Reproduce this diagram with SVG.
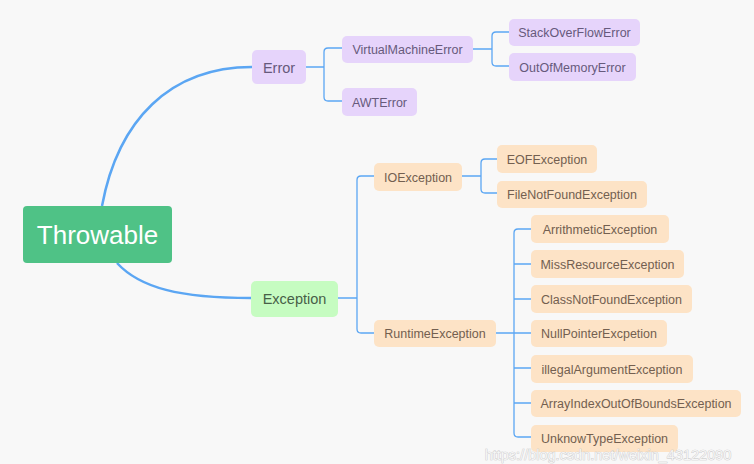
<svg xmlns="http://www.w3.org/2000/svg" width="754" height="464" viewBox="0 0 754 464">
<style>
text{font-family:"Liberation Sans",Arial,sans-serif;text-anchor:middle}
.p rect{fill:#e6d4fb}
.p text{fill:#665a7c;font-size:12.5px}
.o rect{fill:#fde3c6}
.o text{fill:#735f50;font-size:12.5px}
.l1 text{font-size:14.5px}
.c path{fill:none;stroke:#5ba6f3}
.c .thick{stroke-width:2.5}
.c .thin{stroke-width:1.3}
</style>
<rect width="754" height="464" fill="#f8f8f8"/>
<g class="c" id="connectors">
<path class="thick" d="M102,206 C118,120 170,67 252,67"/>
<path class="thick" d="M117,263 C140,288 180,298 251,298"/>
<path class="thin" d="M306,67 H324 M342,48 H328 Q324,48 324,52 V97 Q324,101 328,101 H342"/>
<path class="thin" d="M473,49 H492 M509,32 H496 Q492,32 492,36 V62 Q492,66 496,66 H509"/>
<path class="thin" d="M338,298 H357 M374,176 H361 Q357,176 357,180 V329 Q357,333 361,333 H374"/>
<path class="thin" d="M462,176 H481 M497,159 H485 Q481,159 481,163 V189 Q481,193 485,193 H497"/>
<path class="thin" d="M496,333 H514 M531,229 H518 Q514,229 514,233 V433 Q514,437 518,437 H531 M514,264 H531 M514,299 H531 M514,333 H531 M514,368 H531 M514,403 H531"/>
</g>
<g id="throwable"><rect x="23" y="206" width="149" height="57" rx="4" fill="#4fc286"/><text x="97.5" y="244" font-size="26" fill="#ffffff">Throwable</text></g>
<g id="error" class="p l1"><rect x="252" y="50" width="54" height="34" rx="5"/><text x="279" y="73">Error</text></g>
<g id="exception" class="l1"><rect x="251" y="281" width="87" height="36" rx="5" fill="#c6fcc1"/><text x="294.5" y="304" fill="#485f48">Exception</text></g>
<g id="vme" class="p"><rect x="342" y="36" width="131" height="27" rx="5"/><text x="407.5" y="54">VirtualMachineError</text></g>
<g id="awt" class="p"><rect x="342" y="88" width="75" height="28" rx="5"/><text x="379.5" y="106.5">AWTError</text></g>
<g id="stack" class="p"><rect x="509" y="19" width="131" height="27" rx="5"/><text x="574.5" y="37">StackOverFlowError</text></g>
<g id="oom" class="p"><rect x="509" y="53" width="127" height="28" rx="5"/><text x="572.5" y="71.5">OutOfMemoryError</text></g>
<g id="io" class="o"><rect x="374" y="163" width="88" height="28" rx="5"/><text x="418" y="181.5">IOException</text></g>
<g id="eof" class="o"><rect x="497" y="145" width="100" height="28" rx="5"/><text x="547" y="163.5">EOFException</text></g>
<g id="fnf" class="o"><rect x="497" y="181" width="150" height="27" rx="5"/><text x="572" y="199">FileNotFoundException</text></g>
<g id="runtime" class="o"><rect x="374" y="320" width="122" height="27" rx="5"/><text x="435" y="338">RuntimeException</text></g>
<g id="arith" class="o"><rect x="531" y="215" width="138" height="28" rx="5"/><text x="600" y="233.5">ArrithmeticException</text></g>
<g id="miss" class="o"><rect x="531" y="250" width="153" height="28" rx="5"/><text x="607.5" y="268.5">MissResourceException</text></g>
<g id="cnf" class="o"><rect x="531" y="285" width="161" height="28" rx="5"/><text x="611.5" y="303.5">ClassNotFoundException</text></g>
<g id="npe" class="o"><rect x="531" y="320" width="136" height="27" rx="5"/><text x="599" y="338">NullPointerExcpetion</text></g>
<g id="illegal" class="o"><rect x="531" y="355" width="162" height="28" rx="5"/><text x="612" y="373.5">illegalArgumentException</text></g>
<g id="array" class="o"><rect x="531" y="390" width="210" height="27" rx="5"/><text x="636" y="408">ArrayIndexOutOfBoundsException</text></g>
<g id="unknow" class="o"><rect x="531" y="425" width="147" height="27" rx="5"/><text x="604.5" y="443">UnknowTypeException</text></g>
<text x="608" y="460" font-size="14.5" fill="#ffffff" fill-opacity="0.75" stroke="#c4c4c4" stroke-width="0.7" paint-order="stroke">https://blog.csdn.net/weixin_43122090</text>
</svg>
